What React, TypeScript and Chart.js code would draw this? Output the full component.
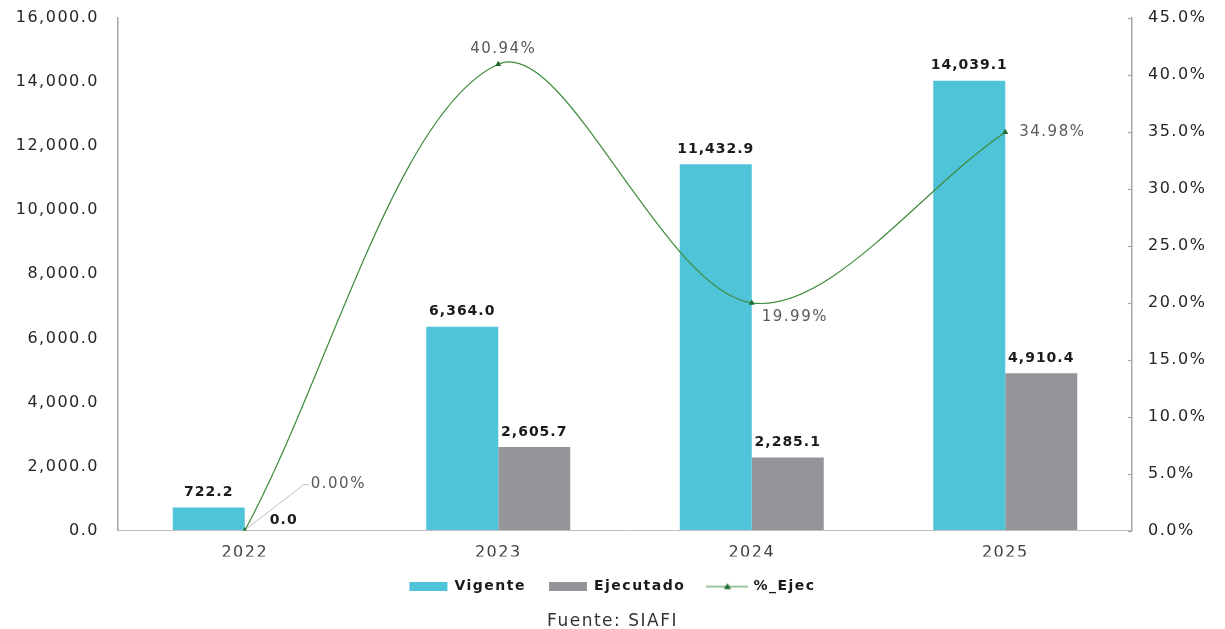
import React, { useEffect, useRef } from "react";
import { Chart, registerables } from "chart.js";

Chart.register(...registerables);

const categories = ["2022", "2023", "2024", "2025"];
const vigente = [722.2, 6364.0, 11432.9, 14039.1];
const ejecutado = [0.0, 2605.7, 2285.1, 4910.4];
const pctEjec = [0.0, 40.94, 19.99, 34.98];
const pctPlacement = ["leader", "above", "belowRight", "right"];
const leftMax = 16000;
const leftStep = 2000;
const rightMax = 45;
const rightStep = 5;
const sourceText = "Fuente: SIAFI";

const CYAN = "#4fc4d9";
const GRAY = "#939598";
const GREEN = "#3d8b3d";
const DARKGREEN = "#1e6b2e";
const AXIS = "#a6a6a6";
const FONT = '"DejaVu Sans", sans-serif';

const fmt1 = (v: number) =>
  v.toLocaleString("en-US", { minimumFractionDigits: 1, maximumFractionDigits: 1 });

const spacingPlugin = {
  id: "spacing",
  beforeLayout(chart: any) {
    chart.ctx.letterSpacing = "1.5px";
  },
  beforeDraw(chart: any) {
    chart.ctx.letterSpacing = "1.5px";
  },
};

// short inward tick marks on the right axis
const innerTicksPlugin = {
  id: "innerTicks",
  afterDraw(chart: any) {
    const s = chart.scales.y1;
    const ctx = chart.ctx;
    ctx.save();
    ctx.strokeStyle = AXIS;
    ctx.lineWidth = 1.2;
    s.ticks.forEach((_t: any, i: number) => {
      const y = Math.round(s.getPixelForTick(i)) + 0.5;
      ctx.beginPath();
      ctx.moveTo(s.left - 4, y);
      ctx.lineTo(s.left, y);
      ctx.stroke();
    });
    ctx.restore();
  },
};

const labelsPlugin = {
  id: "valueLabels",
  afterDatasetsDraw(chart: any) {
    const ctx = chart.ctx;
    ctx.save();
    ctx.letterSpacing = "1px";
    ctx.textBaseline = "middle";
    // bar labels
    [0, 1].forEach((di) => {
      const meta = chart.getDatasetMeta(di);
      const data = chart.data.datasets[di].data as number[];
      meta.data.forEach((el: any, i: number) => {
        const { x, y } = el.getProps(["x", "y"], true);
        ctx.font = `bold 14px ${FONT}`;
        ctx.fillStyle = "#1a1a1a";
        ctx.textAlign = "center";
        const off = data[i] === 0 ? 10 : 15;
        ctx.fillText(fmt1(data[i]), x + (data[i] === 0 ? 3 : 0), y - off);
      });
    });
    // line labels
    const lmeta = chart.getDatasetMeta(2);
    const ldata = chart.data.datasets[2].data as number[];
    ctx.font = `15px ${FONT}`;
    ctx.letterSpacing = "1.5px";
    ctx.fillStyle = "#595959";
    lmeta.data.forEach((el: any, i: number) => {
      const { x, y } = el.getProps(["x", "y"], true);
      const txt = ldata[i].toFixed(2) + "%";
      const p = pctPlacement[i];
      if (p === "above") {
        ctx.textAlign = "center";
        ctx.fillText(txt, x + 5, y - 15);
      } else if (p === "right") {
        ctx.textAlign = "left";
        ctx.fillText(txt, x + 14, y);
      } else if (p === "belowRight") {
        ctx.textAlign = "left";
        ctx.fillText(txt, x + 10, y + 14);
      } else {
        ctx.strokeStyle = "#bfbfbf";
        ctx.lineWidth = 1;
        ctx.beginPath();
        ctx.moveTo(x + 2, y - 2);
        ctx.lineTo(x + 59, y - 46);
        ctx.lineTo(x + 64, y - 46);
        ctx.stroke();
        ctx.textAlign = "left";
        ctx.fillText(txt, x + 66, y - 46);
      }
    });
    ctx.restore();
  },
};

export default function App() {
  const ref = useRef<HTMLCanvasElement | null>(null);

  useEffect(() => {
    document.body.style.margin = "0";
    const canvas = ref.current;
    if (!canvas) return;

    const img = document.createElement("canvas");
    img.width = 42;
    img.height = 10;
    const ic = img.getContext("2d")!;
    ic.strokeStyle = GREEN;
    ic.lineWidth = 1.2;
    ic.beginPath();
    ic.moveTo(0, 5);
    ic.lineTo(42, 5);
    ic.stroke();
    ic.fillStyle = DARKGREEN;
    ic.beginPath();
    ic.moveTo(21, 1.5);
    ic.lineTo(24.5, 7.5);
    ic.lineTo(17.5, 7.5);
    ic.closePath();
    ic.fill();

    Chart.defaults.font.family = FONT;

    const chart = new Chart(canvas, {
      type: "bar",
      data: {
        labels: categories,
        datasets: [
          {
            label: "Vigente",
            data: vigente,
            backgroundColor: CYAN,
            borderWidth: 0,
            yAxisID: "y",
            order: 1,
            barPercentage: 1,
            categoryPercentage: 0.568,
          },
          {
            label: "Ejecutado",
            data: ejecutado,
            backgroundColor: GRAY,
            borderWidth: 0,
            yAxisID: "y",
            order: 1,
            barPercentage: 1,
            categoryPercentage: 0.568,
          },
          {
            type: "line",
            label: "%_Ejec",
            data: pctEjec,
            yAxisID: "y1",
            order: 0,
            borderColor: GREEN,
            borderWidth: 1.2,
            backgroundColor: DARKGREEN,
            pointStyle: "triangle",
            pointRadius: 3.5,
            pointBackgroundColor: DARKGREEN,
            pointBorderColor: DARKGREEN,
            pointBorderWidth: 0,
            tension: 0.33,
            fill: false,
          } as any,
        ],
      },
      options: {
        responsive: false,
        animation: false,
        devicePixelRatio: 1,
        layout: { padding: { top: 18, left: 0, right: 0, bottom: 0 } },
        scales: {
          x: {
            grid: { display: false, drawTicks: false },
            border: { display: true, color: "#bfbfbf", width: 1 },
            ticks: { color: "#404040", font: { size: 16 }, padding: 13 },
            afterFit: (s: any) => {
              s.height = 26;
            },
          },
          y: {
            position: "left",
            min: 0,
            max: leftMax,
            grid: {
              display: true,
              drawOnChartArea: false,
              drawTicks: true,
              tickLength: 16,
              tickColor: "rgba(0,0,0,0)",
            },
            border: { display: true, color: AXIS, width: 1.5 },
            ticks: {
              stepSize: leftStep,
              color: "#262626",
              font: { size: 16 },
              padding: 3,
              callback: (v: any) => fmt1(Number(v)),
            },
            afterFit: (s: any) => {
              s.width = 118;
            },
          },
          y1: {
            position: "right",
            min: 0,
            max: rightMax,
            grid: {
              display: true,
              drawOnChartArea: false,
              drawTicks: true,
              tickLength: 13,
              tickColor: "rgba(0,0,0,0)",
            },
            border: { display: true, color: AXIS, width: 1.5 },
            ticks: {
              stepSize: rightStep,
              color: "#262626",
              font: { size: 16 },
              padding: 3,
              callback: (v: any) => Number(v).toFixed(1) + "%",
            },
            afterFit: (s: any) => {
              s.width = 93;
            },
          },
        },
        plugins: {
          tooltip: { enabled: false },
          legend: {
            position: "bottom",
            labels: {
              usePointStyle: true,
              pointStyleWidth: 38,
              boxHeight: 9,
              padding: 23,
              color: "#1a1a1a",
              font: { size: 14, weight: "bold" },
              sort: (a: any, b: any) => a.datasetIndex - b.datasetIndex,
              generateLabels: (ch: any) => {
                const items = (Chart.defaults.plugins.legend.labels as any).generateLabels(ch);
                return items.map((it: any) =>
                  it.datasetIndex === 2
                    ? { ...it, pointStyle: img, lineWidth: 0 }
                    : { ...it, pointStyle: "rect", lineWidth: 0 }
                );
              },
            },
          },
          title: {
            display: true,
            text: sourceText,
            position: "bottom",
            color: "#333333",
            font: { size: 17, weight: "normal" },
            padding: { top: 8, bottom: -3 },
          },
        },
      } as any,
      plugins: [spacingPlugin, labelsPlugin, innerTicksPlugin],
    });

    return () => chart.destroy();
  }, []);

  return (
    <div style={{ width: 1225, height: 629 }}>
      <canvas ref={ref} width={1225} height={629} style={{ width: 1225, height: 629, display: "block" }} />
    </div>
  );
}
